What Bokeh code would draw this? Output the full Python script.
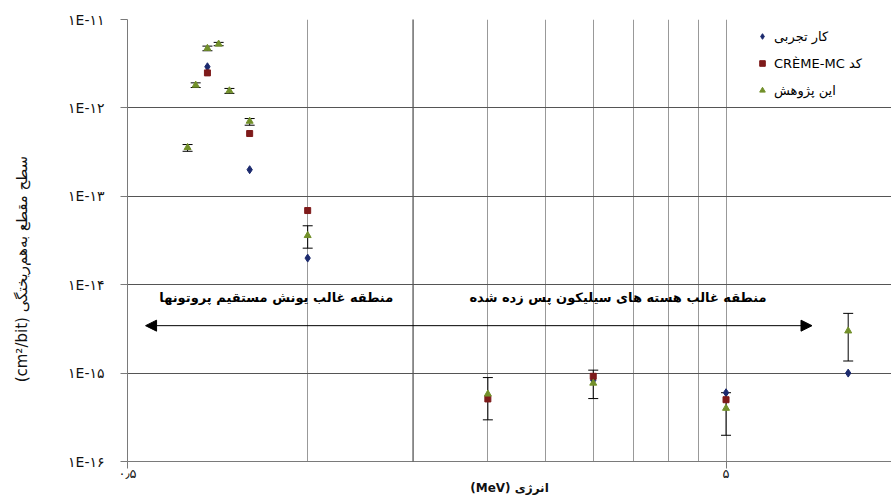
from bokeh.plotting import figure
from bokeh.models import (ColumnDataSource, FixedTicker, Whisker, TeeHead, Arrow,
                          NormalHead, Label, Legend, LegendItem)
from bokeh.embed import file_html
from bokeh.resources import INLINE

# ---------------- data ----------------
exp_x = [0.68, 0.8, 1.0, 3.0, 5.0, 8.0]
exp_y = [2.92e-12, 2.0e-13, 2.0e-14, 8.3e-16, 6.0e-16, 1.0e-15]

creme_x = [0.68, 0.8, 1.0, 2.0, 3.0, 5.0]
creme_y = [2.49e-12, 5.13e-13, 6.9e-14, 5.1e-16, 9.2e-16, 5.0e-16]

this_x = [0.63, 0.65, 0.68, 0.71, 0.74, 0.8, 1.0, 2.0, 3.0, 5.0, 8.0]
this_y = [3.56e-13, 1.81e-12, 4.72e-12, 5.27e-12, 1.56e-12, 7.07e-13, 3.6e-14,
          5.8e-16, 7.7e-16, 4.0e-16, 3.0e-15]
this_hi = [3.85e-13, 1.92e-12, 5.0e-12, 5.51e-12, 1.66e-12, 7.58e-13, 4.64e-14,
           8.9e-16, 1.08e-15, 6.0e-16, 4.74e-15]
this_lo = [3.23e-13, 1.70e-12, 4.43e-12, 5.05e-12, 1.46e-12, 6.37e-13, 2.59e-14,
           2.96e-16, 5.15e-16, 1.98e-16, 1.37e-15]

y_ticks = [1e-16, 1e-15, 1e-14, 1e-13, 1e-12, 1e-11]
y_tick_labels = ["۱E-۱۶", "۱E-۱۵", "۱E-۱۴", "۱E-۱۳", "۱E-۱۲", "۱E-۱۱"]
x_ticks = [0.5, 5.0]
x_tick_labels = ["۰٫۵", "۵"]
x_minor_grid = [1.0, 2.0, 2.5, 3.0, 3.5, 4.0, 4.5, 5.0]

series_names = ["کار تجربی", "CRÈME-MC کد", "این پژوهش"]
region_left = "منطقه غالب یونش مستقیم پروتونها"
region_right = "منطقه غالب هسته های سیلیکون پس زده شده"
x_title = "(MeV) انرژی"
y_title = "(cm²/bit) سطح مقطع به‌هم‌ریختگی" + "\u00a0" * 12

X_MIN, X_MAX = 0.5, 9.45
Y_MIN, Y_MAX = 1e-16, 1e-11
DIVIDER_X = 1.5

FONT = "DejaVu Sans"

p = figure(width=891, height=497, x_axis_type="log", y_axis_type="log",
           x_range=(X_MIN, X_MAX), y_range=(Y_MIN, Y_MAX),
           output_backend="svg", toolbar_location=None,
           min_border_left=127, min_border_right=0, min_border_top=19,
           min_border_bottom=0)
p.outline_line_color = None
p.background_fill_color = "white"

# axes
p.yaxis.ticker = FixedTicker(ticks=y_ticks, minor_ticks=[])
p.yaxis.major_label_overrides = dict(zip(y_ticks, y_tick_labels))
p.xaxis.ticker = FixedTicker(ticks=x_ticks, minor_ticks=[])
p.xaxis.major_label_overrides = dict(zip(x_ticks, x_tick_labels))
for ax in (p.xaxis[0], p.yaxis[0]):
    ax.axis_line_color = "#7a7a7a"
    ax.major_tick_line_color = "#7a7a7a"
    ax.major_tick_out = 7
    ax.major_tick_in = 0
    ax.minor_tick_line_color = None
    ax.major_label_text_font = FONT
    ax.major_label_text_color = "#111111"
    ax.axis_label_text_font = FONT
    ax.axis_label_text_color = "#111111"
p.yaxis.major_label_text_font_size = "14px"
p.xaxis.major_label_text_font_size = "13px"
p.yaxis.major_label_standoff = 16
p.xaxis.major_label_standoff = -3
p.yaxis.axis_label = y_title
p.yaxis.axis_label_text_font_size = "15px"
p.yaxis.axis_label_text_font_style = "normal"
p.yaxis.axis_label_standoff = 34
p.xaxis.axis_label = x_title
p.xaxis.axis_label_text_font_size = "12px"
p.xaxis.axis_label_text_font_style = "bold"
p.xaxis.axis_label_standoff = -3

# grids
p.ygrid.ticker = FixedTicker(ticks=y_ticks, minor_ticks=[])
p.ygrid.grid_line_color = "#555555"
p.ygrid.grid_line_width = 1
p.xgrid.ticker = FixedTicker(ticks=x_minor_grid, minor_ticks=[])
p.xgrid.grid_line_color = "#999999"
p.xgrid.grid_line_width = 1

# divider line at 1.5
divider = Arrow(x_start=DIVIDER_X, x_end=DIVIDER_X, y_start=3.9e-17, y_end=1.35e-11,
                start=None, end=None, line_color="#555555", line_width=1.3)
p.add_layout(divider)

# region arrow
p.add_layout(Arrow(x_start=0.536, x_end=6.96, y_start=3.44e-15, y_end=3.44e-15,
                   start=NormalHead(size=11, fill_color="black", line_color="black"),
                   end=NormalHead(size=11, fill_color="black", line_color="black"),
                   line_color="black", line_width=1))

for txt, xx in ((region_left, 0.886), (region_right, 3.30)):
    p.add_layout(Label(x=xx, y=7.14e-15, text=txt, text_align="center",
                       text_baseline="middle", text_font=FONT,
                       text_font_size="13px", text_font_style="bold",
                       text_color="black"))

# error bars
src_this = ColumnDataSource(dict(x=this_x, y=this_y, hi=this_hi, lo=this_lo))
wh = Whisker(source=src_this, base="x", upper="hi", lower="lo", dimension="height",
             line_color="black", line_width=1, level="underlay",
             upper_head=TeeHead(size=10, line_color="black", line_width=1),
             lower_head=TeeHead(size=10, line_color="black", line_width=1))
p.add_layout(wh)

r1 = p.scatter(exp_x, exp_y, marker="diamond", size=8, color="#1c2a6e")
r2 = p.scatter(creme_x, creme_y, marker="square", size=6, color="#7e1a1a")
r3 = p.scatter("x", "y", source=src_this, marker="triangle", size=7, color="#72902a")

legend = Legend(items=[LegendItem(label=series_names[0], renderers=[r1]),
                       LegendItem(label=series_names[1], renderers=[r2]),
                       LegendItem(label=series_names[2], renderers=[r3])],
                location=(628, 359), background_fill_alpha=0,
                border_line_color=None, padding=4, spacing=3,
                label_height=24, glyph_height=20, glyph_width=14,
                label_standoff=5, label_text_font=FONT,
                label_text_font_size="13px", label_text_color="black")
p.add_layout(legend)

open("out.html", "w").write(file_html(p, INLINE))
